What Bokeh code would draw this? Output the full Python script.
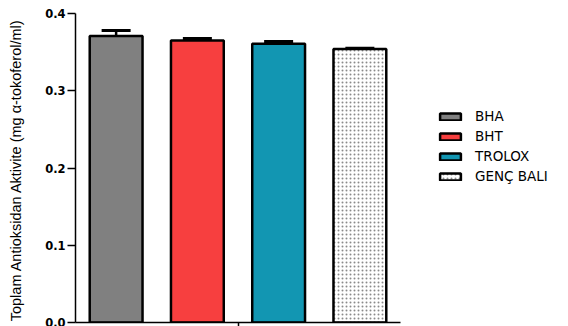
from bokeh.plotting import figure
from bokeh.layouts import row
from bokeh.models import (Range1d, FixedTicker, PrintfTickFormatter, Legend,
                          LegendItem, Whisker, TeeHead, ColumnDataSource)
from bokeh.embed import file_html
from bokeh.resources import INLINE

# Total antioxidant activity per sample (mean ± SEM)
groups = ["BHA", "BHT", "TROLOX", "GENÇ BALI"]
means = [0.371, 0.365, 0.361, 0.354]
sems = [0.007, 0.0025, 0.0025, 0.0008]
colors = ["#808080", "#F73F3F", "#1296B2", "#FFFFFF"]
y_ticks = [0.0, 0.1, 0.2, 0.3, 0.4]

xs = [i + 0.5 for i in range(len(groups))]


def bar_style(g, c):
    kw = dict(fill_color=c, line_color="black", line_width=2.5)
    if g == "GENÇ BALI":
        kw.update(hatch_pattern="dot", hatch_scale=4, hatch_weight=1,
                  hatch_color="#8a8a8a")
    return kw


p = figure(width=402, height=326, output_backend="svg", toolbar_location=None,
           x_range=Range1d(0, len(groups)), y_range=Range1d(0, 0.4),
           min_border_left=75, min_border_right=2, min_border_top=13,
           min_border_bottom=4)
p.outline_line_color = None
p.xgrid.visible = False
p.ygrid.visible = False
p.background_fill_color = "white"
p.border_fill_color = "white"

for i, g in enumerate(groups):
    p.vbar(x=[xs[i]], top=[means[i]], bottom=0, width=0.65,
           **bar_style(g, colors[i]))

err = ColumnDataSource(dict(
    x=xs,
    upper=[m + s for m, s in zip(means, sems)],
    lower=[m - s for m, s in zip(means, sems)],
))
whisk = Whisker(base="x", upper="upper", lower="lower", source=err,
                line_color="black", line_width=2.5,
                upper_head=TeeHead(size=29, line_width=3.2, line_color="black"),
                lower_head=TeeHead(size=29, line_width=3.2, line_color="black"))
p.add_layout(whisk)

# y axis
yax = p.yaxis[0]
yax.ticker = FixedTicker(ticks=y_ticks)
yax.formatter = PrintfTickFormatter(format="%.1f")
yax.minor_tick_line_color = None
yax.major_tick_out = 8
yax.major_tick_in = 0
yax.major_tick_line_width = 1.5
yax.axis_line_width = 1.5
yax.major_label_standoff = 2
yax.major_label_text_font = "DejaVu Sans"
yax.major_label_text_font_style = "bold"
yax.major_label_text_font_size = "11.5px"
yax.major_label_text_color = "black"
yax.axis_label = "Toplam Antioksidan Aktivite (mg  α-tokoferol/ml)"
yax.axis_label_text_font = "Liberation Sans"
yax.axis_label_text_font_style = "normal"
yax.axis_label_text_font_size = "14.5px"
yax.axis_label_text_color = "black"
yax.axis_label_standoff = 18

# x axis: a single centred tick, no labels
xax = p.xaxis[0]
xax.ticker = FixedTicker(ticks=[len(groups) / 2])
xax.major_label_overrides = {len(groups) / 2: ""}
xax.major_label_text_font_size = "0px"
xax.major_label_standoff = 0
xax.minor_tick_line_color = None
xax.major_tick_out = 4
xax.major_tick_in = 0
xax.major_tick_line_width = 1.5
xax.axis_line_width = 1.5

# legend panel beside the chart; its keys reuse the bar data, hidden
lp = figure(width=166, height=326, output_backend="svg", toolbar_location=None,
            x_range=Range1d(0, 1), y_range=Range1d(0, 1),
            min_border=0)
lp.axis.visible = False
lp.grid.visible = False
lp.outline_line_color = None
lp.border_fill_color = "white"
lp.background_fill_color = "white"

keys = [lp.vbar(x=[xs[i]], top=[means[i]], bottom=0, width=0.65,
                visible=False, **bar_style(g, colors[i]))
        for i, g in enumerate(groups)]

legend = Legend(items=[LegendItem(label=g, renderers=[r])
                       for g, r in zip(groups, keys)],
                location=(35, 138), orientation="vertical",
                glyph_width=26, glyph_height=9, label_height=12,
                spacing=4, label_standoff=12, padding=0, margin=0,
                border_line_color=None, background_fill_alpha=0,
                label_text_font="DejaVu Sans", label_text_font_size="13.5px",
                label_text_color="black")
lp.add_layout(legend)

layout = row(p, lp, spacing=0)
open("out.html", "w").write(file_html(layout, INLINE))
